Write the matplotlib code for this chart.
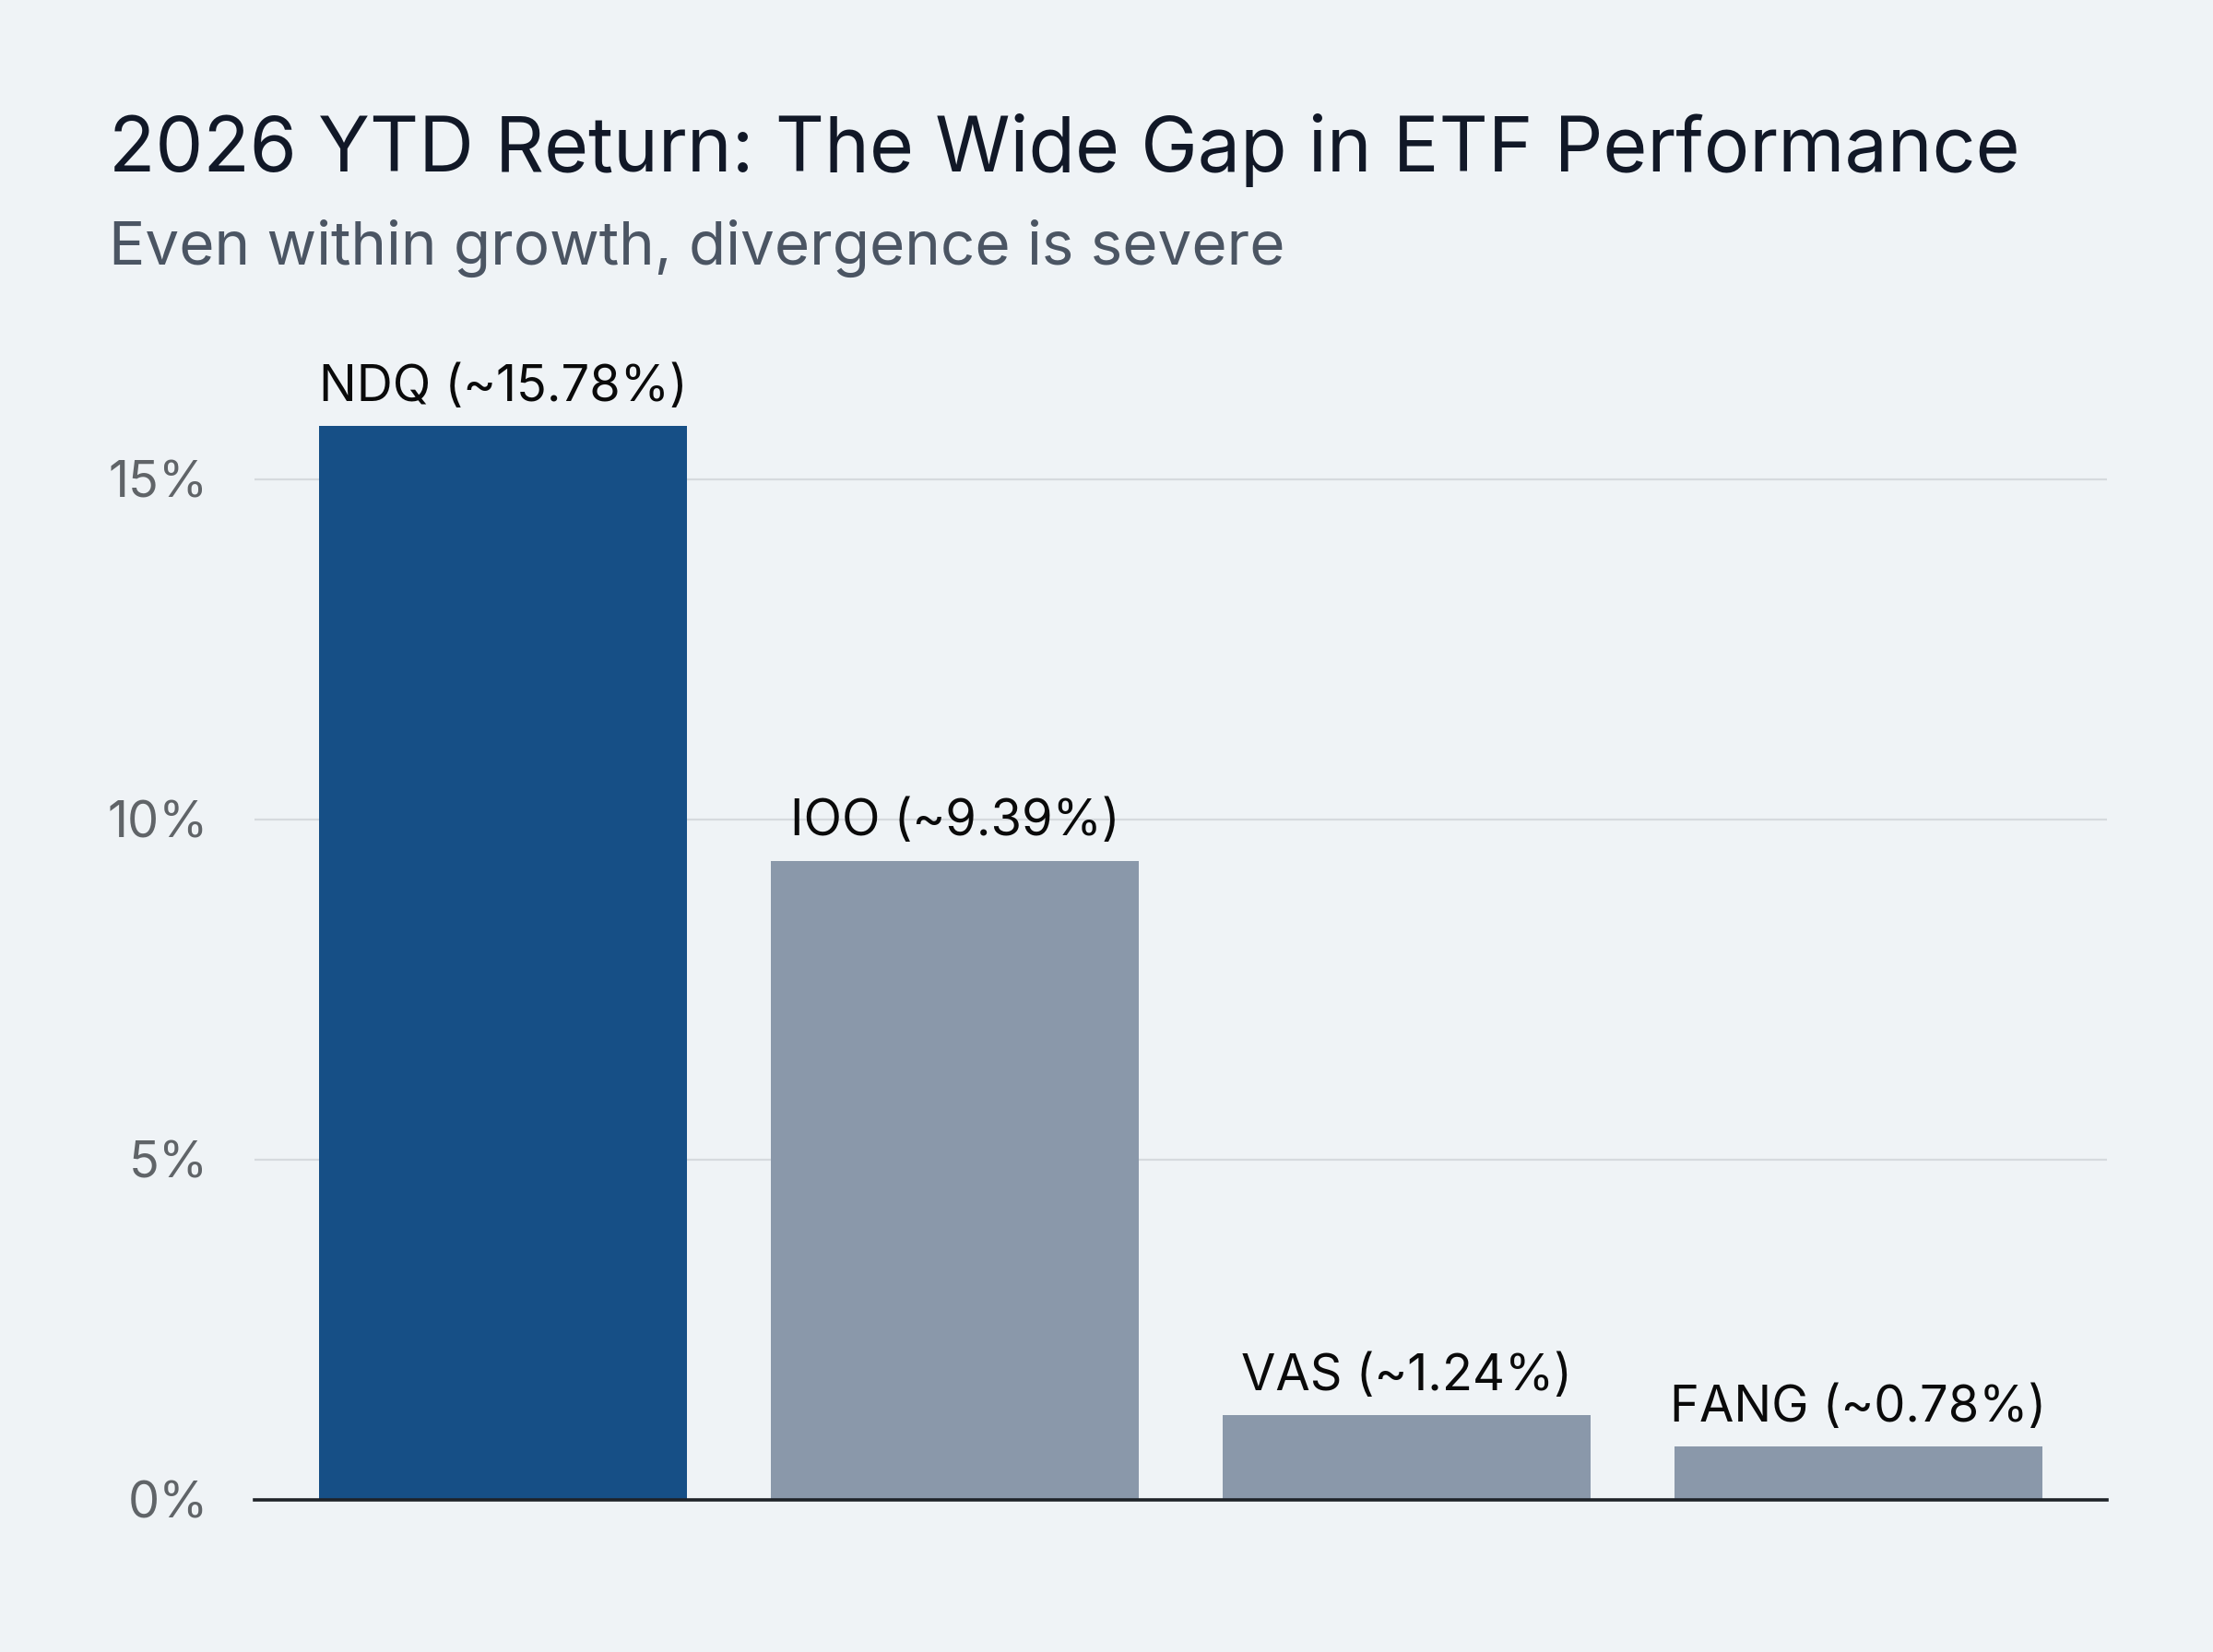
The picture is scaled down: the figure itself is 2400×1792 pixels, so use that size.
import matplotlib.pyplot as plt
import numpy as np

# chart data
tickers = ["NDQ", "IOO", "VAS", "FANG"]
ytd_returns = [15.78, 9.39, 1.24, 0.78]
bar_colors = ["#164f86", "#8a98aa", "#8a98aa", "#8a98aa"]
y_ticks = [0, 5, 10, 15]
y_tick_labels = ["0%", "5%", "10%", "15%"]

plt.rcParams['font.family'] = ['Inter', 'DejaVu Sans']

bg = "#eff3f6"
fig = plt.figure(figsize=(12, 8.96), dpi=200, facecolor=bg)
ax = fig.add_axes([0.115, 0.0922, 0.837, 0.70])
ax.set_facecolor(bg)

x = np.arange(len(tickers))
bars = ax.bar(x, ytd_returns, width=0.815, color=bar_colors, zorder=3)

for xi, val, name in zip(x, ytd_returns, tickers):
    ax.annotate(f"{name} (~{val:.2f}%)", xy=(xi, val), xytext=(0, 6),
                textcoords="offset points", ha="center", va="bottom",
                fontsize=19.5, color="#0a0a0a", zorder=4)

ax.set_xlim(-0.55, 3.55)
ax.set_ylim(0, 17)
ax.set_yticks(y_ticks)
ax.set_yticklabels(y_tick_labels)
ax.set_xticks([])
ax.tick_params(axis="y", length=0, pad=18, labelsize=19.5, labelcolor="#606468")

for spine in ["top", "right", "left"]:
    ax.spines[spine].set_visible(False)
ax.spines["bottom"].set_color("#1f2328")
ax.spines["bottom"].set_linewidth(1.3)
ax.spines["bottom"].set_zorder(5)

ax.yaxis.grid(True, color="#d6dade", linewidth=0.8, zorder=0)
ax.set_axisbelow(True)

fig.text(0.049, 0.896, "2026 YTD Return: The Wide Gap in ETF Performance",
         fontsize=29.7, color="#111827", ha="left", va="baseline")
fig.text(0.049, 0.840, "Even within growth, divergence is severe",
         fontsize=23.6, color="#4b5563", ha="left", va="baseline")

fig.savefig("out.png", dpi=200, facecolor=bg)
